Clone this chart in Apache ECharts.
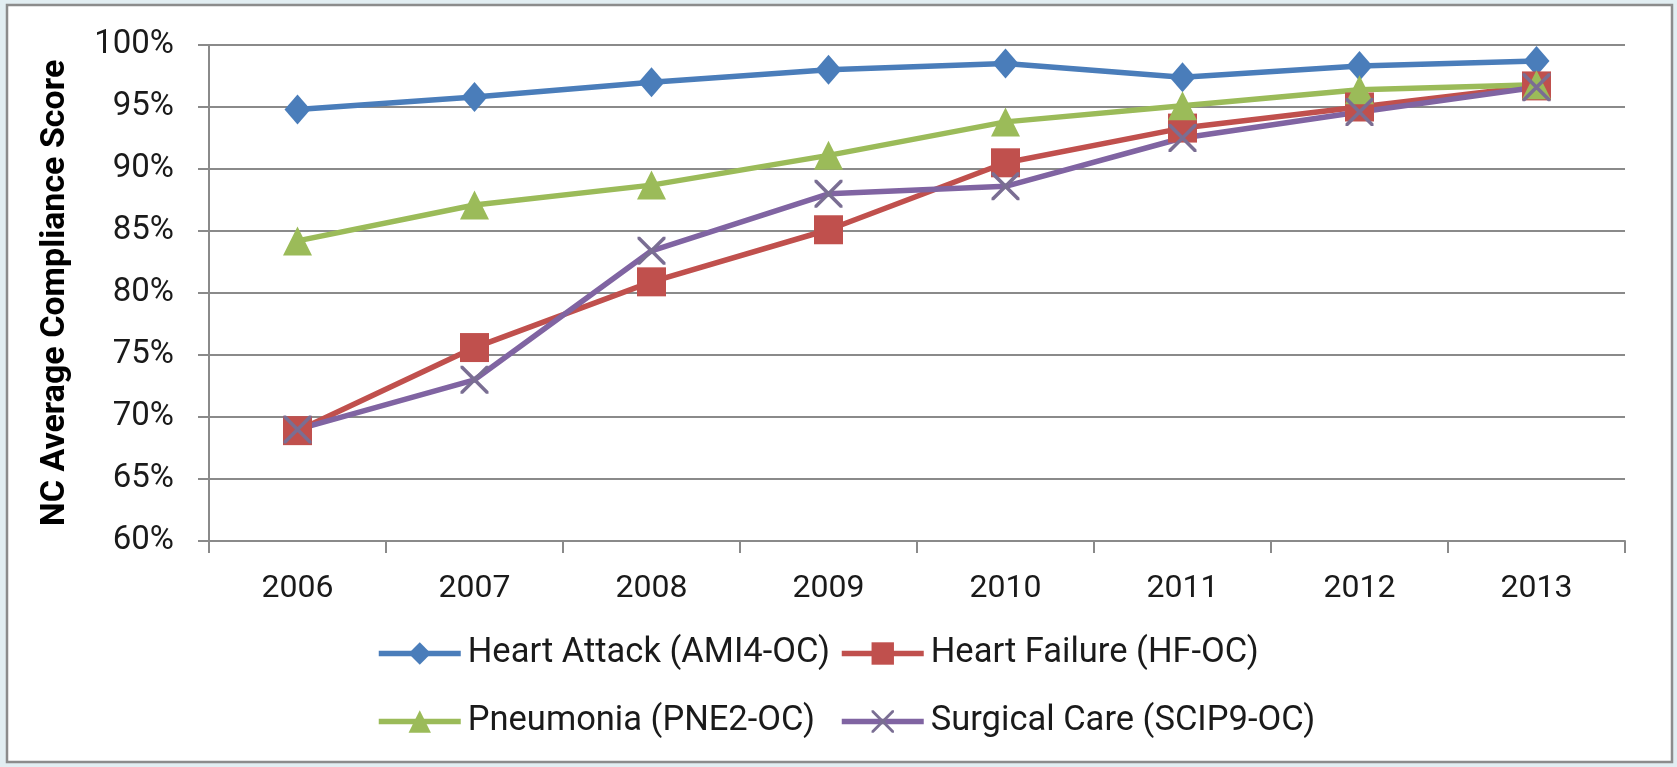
<!DOCTYPE html>
<html>
<head>
<meta charset="utf-8">
<script src="https://cdn.jsdelivr.net/npm/echarts@6/dist/echarts.min.js"></script>
<style>
  html, body { margin: 0; padding: 0; background: #e2eef2; }
  #chart { width: 1677px; height: 767px; }
</style>
</head>
<body>
<div id="chart"></div>
<script>
const years = ['2006', '2007', '2008', '2009', '2010', '2011', '2012', '2013'];
const heartAttack = [94.8, 95.8, 97.0, 98.0, 98.5, 97.4, 98.3, 98.7];
const heartFailure = [68.9, 75.6, 80.9, 85.1, 90.5, 93.3, 95.0, 96.7];
const pneumonia = [84.2, 87.1, 88.7, 91.1, 93.8, 95.1, 96.4, 96.8];
const surgicalCare = [69.0, 73.0, 83.4, 88.0, 88.6, 92.5, 94.6, 96.6];
const yTicks = { min: 60, max: 100, step: 5 };

const font = 'Roboto, "Liberation Sans", sans-serif';
const gridGray = '#8a8a8a';
// thin X marker like Excel's
const crossPath = 'path://M0,0L0.9,0L10,9.1L10,10L9.1,10L0,0.9Z M10,0L10,0.9L0.9,10L0,10L0,9.1L9.1,0Z';

let chart = echarts.init(document.getElementById('chart'));

function lineSeries(name, data, color, symbol, size, markColor) {
  return {
    name: name,
    type: 'line',
    data: data,
    symbol: symbol,
    symbolSize: size,
    itemStyle: { color: markColor || color },
    lineStyle: { color: color, width: 5.5 },
    emphasis: { disabled: true },
    animation: false
  };
}

const legendText = { fontFamily: font, fontSize: 34.5, color: '#1a1a1a', padding: [0, 0, 0, 2] };

let option = {
  backgroundColor: 'transparent',
  graphic: [{
    type: 'rect',
    z: -10,
    shape: { x: 7, y: 5, width: 1665, height: 757 },
    style: { fill: '#ffffff', stroke: '#8c8c8c', lineWidth: 2.5 }
  }],
  grid: { left: 209, right: 52, top: 45, bottom: 226 },
  legend: [
    {
      orient: 'vertical',
      left: 371,
      top: 631,
      itemWidth: 82,
      itemHeight: 28,
      itemGap: 33,
      lineStyle: { width: 5.5 },
      textStyle: legendText,
      data: ['Heart Attack (AMI4-OC)', 'Pneumonia (PNE2-OC)']
    },
    {
      orient: 'vertical',
      left: 834,
      top: 631,
      itemWidth: 82,
      itemHeight: 28,
      itemGap: 33,
      lineStyle: { width: 5.5 },
      textStyle: legendText,
      data: ['Heart Failure (HF-OC)', 'Surgical Care (SCIP9-OC)']
    }
  ],
  xAxis: {
    type: 'category',
    data: years,
    boundaryGap: true,
    axisLine: { lineStyle: { color: gridGray, width: 2 } },
    axisTick: { show: true, interval: 0, length: 12, lineStyle: { color: gridGray, width: 2 } },
    axisLabel: { fontFamily: font, fontSize: 32, color: '#1a1a1a', margin: 32 }
  },
  yAxis: {
    type: 'value',
    min: yTicks.min,
    max: yTicks.max,
    interval: yTicks.step,
    name: 'NC Average Compliance Score',
    nameLocation: 'middle',
    nameRotate: 90,
    nameGap: 137,
    nameTextStyle: { fontFamily: font, fontSize: 34, fontWeight: 'bold', color: '#000' },
    axisLine: { show: true, lineStyle: { color: gridGray, width: 2 } },
    axisTick: { show: true, length: 11, lineStyle: { color: gridGray, width: 2 } },
    axisLabel: { fontFamily: font, fontSize: 33, color: '#1a1a1a', margin: 35, formatter: '{value}%' },
    splitLine: { lineStyle: { color: gridGray, width: 2 } }
  },
  series: [
    lineSeries('Heart Attack (AMI4-OC)', heartAttack, '#4a7dba', 'diamond', [26, 30]),
    lineSeries('Heart Failure (HF-OC)', heartFailure, '#c0504d', 'rect', 29),
    lineSeries('Pneumonia (PNE2-OC)', pneumonia, '#9bbb59', 'triangle', 29),
    lineSeries('Surgical Care (SCIP9-OC)', surgicalCare, '#8064a2', crossPath, 28, '#7a6e93')
  ]
};

chart.setOption(option);
</script>
</body>
</html>
